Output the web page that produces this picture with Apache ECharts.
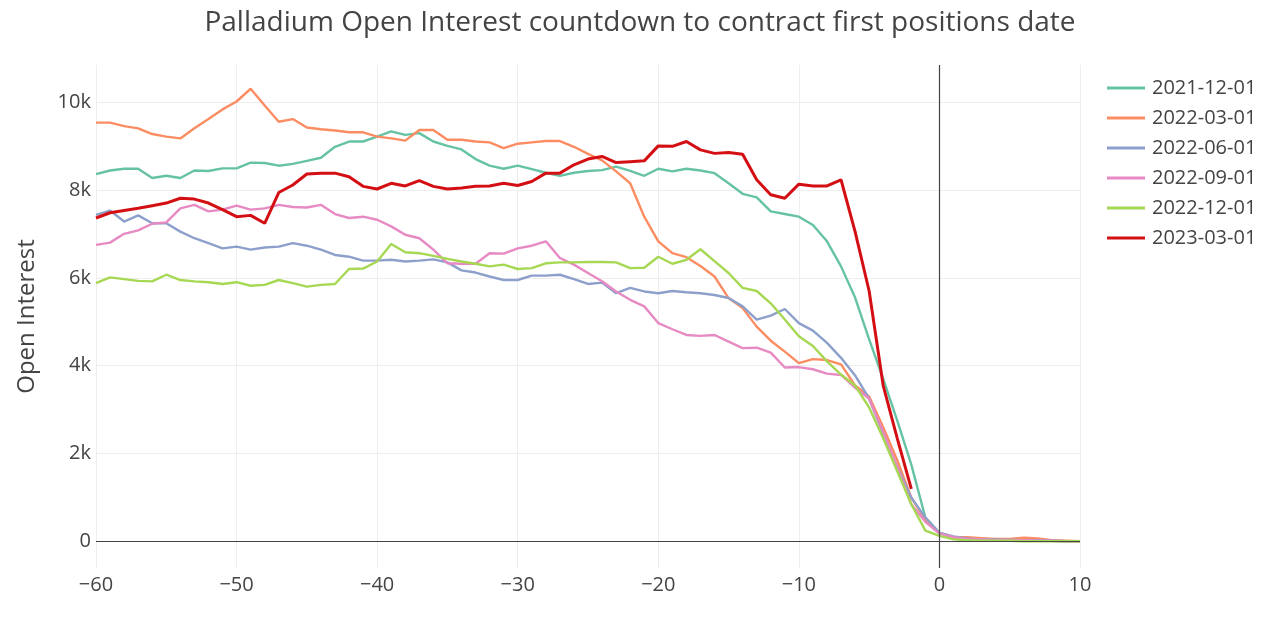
<!DOCTYPE html>
<html>
<head>
<meta charset="utf-8">
<title>Palladium Open Interest</title>
<script src="https://cdn.jsdelivr.net/npm/echarts@6/dist/echarts.min.js"></script>
<style>
  html, body { margin: 0; padding: 0; background: #fff; }
  #chart { width: 1280px; height: 641px; }
</style>
</head>
<body>
<div id="chart"></div>
<script>
// days relative to first positions date
const days = []
for (let d = -60; d <= 10; d++) days.push(d)

// open interest, contracts
const dec2021 = [8360, 8440, 8480, 8480, 8270, 8320, 8270, 8440, 8430, 8490, 8490, 8620, 8610, 8550, 8590, 8660, 8730, 8980, 9100, 9100,
  9210, 9330, 9250, 9290, 9100, 9000, 8920, 8700, 8550, 8480, 8550, 8470, 8390, 8320, 8390, 8430, 8450, 8530, 8430, 8320,
  8480, 8420, 8480, 8440, 8380, 8150, 7910, 7830, 7510, 7450, 7390, 7200, 6830, 6260, 5550, 4600, 3700, 2750, 1750, 550,
  200, 100, 70, 50, 40, 30, 30, 20, 20, 10, 10]
const mar2022 = [9530, 9530, 9450, 9400, 9270, 9210, 9170, 9400, 9610, 9830, 10010, 10300, 9920, 9550, 9610, 9420, 9380, 9350, 9310, 9310,
  9210, 9170, 9120, 9360, 9360, 9140, 9140, 9100, 9080, 8950, 9050, 9080, 9110, 9110, 8980, 8820, 8670, 8420, 8150, 7390,
  6830, 6560, 6470, 6270, 6030, 5540, 5310, 4890, 4570, 4320, 4060, 4150, 4130, 4030, 3550, 3300, 2600, 1850, 1000, 500,
  200, 100, 100, 80, 60, 60, 90, 70, 30, 20, 10]
const jun2022 = [7430, 7530, 7280, 7420, 7240, 7240, 7050, 6900, 6790, 6670, 6710, 6640, 6690, 6710, 6790, 6730, 6640, 6520, 6480, 6390,
  6390, 6410, 6370, 6390, 6420, 6350, 6170, 6120, 6030, 5950, 5950, 6050, 6050, 6070, 5970, 5860, 5890, 5650, 5770, 5690,
  5650, 5700, 5670, 5650, 5610, 5540, 5350, 5050, 5140, 5290, 4970, 4800, 4520, 4180, 3780, 3250, 2450, 1700, 1000, 550,
  200, 120, 70, 50, 50, 40, 30, 30, 20, 10, 10]
const sep2022 = [6750, 6800, 7000, 7080, 7230, 7260, 7580, 7660, 7510, 7550, 7640, 7550, 7580, 7660, 7610, 7600, 7660, 7450, 7360, 7390,
  7320, 7170, 6980, 6900, 6640, 6330, 6320, 6320, 6560, 6550, 6670, 6730, 6830, 6450, 6300, 6110, 5920, 5690, 5500, 5350,
  4970, 4830, 4700, 4680, 4700, 4550, 4400, 4410, 4300, 3960, 3970, 3920, 3820, 3790, 3500, 3250, 2500, 1700, 850, 450,
  180, 100, 60, 50, 40, 40, 30, 20, 20, 10, 10]
const dec2022 = [5880, 6010, 5970, 5930, 5920, 6070, 5950, 5920, 5900, 5860, 5900, 5820, 5840, 5950, 5880, 5800, 5840, 5860, 6200, 6210,
  6370, 6770, 6580, 6560, 6500, 6430, 6370, 6320, 6260, 6300, 6200, 6220, 6330, 6350, 6350, 6360, 6360, 6350, 6220, 6230,
  6480, 6320, 6410, 6650, 6380, 6110, 5770, 5700, 5420, 5050, 4670, 4450, 4100, 3800, 3550, 3050, 2350, 1600, 850, 250,
  130, 50, 30, 20, 20, 20, 10, 10, 10, 10, 10]
// current contract: data stops two days before the date
const mar2023 = [7360, 7480, 7530, 7580, 7640, 7700, 7810, 7790, 7700, 7550, 7390, 7420, 7240, 7940, 8110, 8360, 8380, 8380, 8300, 8080,
  8020, 8150, 8090, 8210, 8080, 8020, 8040, 8080, 8090, 8150, 8100, 8190, 8380, 8380, 8570, 8700, 8760, 8620, 8640, 8660,
  9000, 8990, 9100, 8910, 8830, 8850, 8810, 8230, 7890, 7810, 8130, 8090, 8090, 8230, 7050, 5700, 3550, 2350, 1200]

const seriesNames = ['2021-12-01', '2022-03-01', '2022-06-01', '2022-09-01', '2022-12-01', '2023-03-01']
const seriesValues = [dec2021, mar2022, jun2022, sep2022, dec2022, mar2023]
const colors = ['#66c2a5', '#fc8d62', '#8da0cb', '#e78ac3', '#a6d854', '#d40f14']
const yTicks = [0, 2000, 4000, 6000, 8000, 10000]

const font = "'Open Sans', 'DejaVu Sans', sans-serif"
const chart = echarts.init(document.getElementById('chart'))

const series = seriesNames.map((name, i) => {
  const s = {
    name: name,
    type: 'line',
    data: seriesValues[i].map((v, j) => [days[j], v]),
    showSymbol: false,
    symbol: 'none',
    lineStyle: { width: i === 5 ? 3 : 2.4, color: colors[i] },
    itemStyle: { color: colors[i] },
    z: 3,
  }
  // zero lines like plotly draws them
  if (i === 0) {
    s.markLine = {
      silent: true,
      symbol: 'none',
      label: { show: false },
      lineStyle: { color: '#444', width: 1.2, type: 'solid' },
      data: [{ xAxis: 0 }, { yAxis: 0 }],
    }
  }
  return s
})

chart.setOption({
  animation: false,
  textStyle: { fontFamily: font, color: '#444' },
  title: {
    text: 'Palladium Open Interest countdown to contract first positions date',
    left: 'center',
    top: 4,
    textStyle: { fontFamily: font, fontSize: 28, fontWeight: 'normal', color: '#444' },
  },
  legend: {
    orient: 'vertical',
    left: 1102,
    top: 73,
    icon: 'rect',
    itemWidth: 38,
    itemHeight: 3,
    itemGap: 10,
    textStyle: { fontFamily: font, fontSize: 20, color: '#444', padding: [0, 0, 0, 2] },
    data: seriesNames,
  },
  grid: { left: 96, right: 200, top: 65, bottom: 73 },
  xAxis: {
    type: 'value',
    min: -60,
    max: 10,
    interval: 10,
    axisLine: { show: false, onZero: false },
    axisTick: { show: false },
    axisLabel: {
      margin: 7,
      fontSize: 20,
      color: '#444',
      fontFamily: font,
      formatter: v => (v < 0 ? '\u2212' + (-v) : String(v)),
    },
    splitLine: { show: true, lineStyle: { color: '#eee', width: 1 } },
  },
  yAxis: {
    type: 'value',
    min: -600,
    max: 10840,
    name: 'Open Interest',
    nameLocation: 'middle',
    nameGap: 57,
    nameTextStyle: { fontSize: 24, color: '#444', fontFamily: font },
    axisLine: { show: false, onZero: false },
    axisTick: { show: false, customValues: yTicks },
    axisLabel: {
      customValues: yTicks,
      margin: 5,
      fontSize: 20,
      color: '#444',
      fontFamily: font,
      formatter: v => (v === 0 ? '0' : v / 1000 + 'k'),
    },
    splitLine: { show: true, lineStyle: { color: '#eee', width: 1 } },
  },
  series: series,
})
</script>
</body>
</html>
